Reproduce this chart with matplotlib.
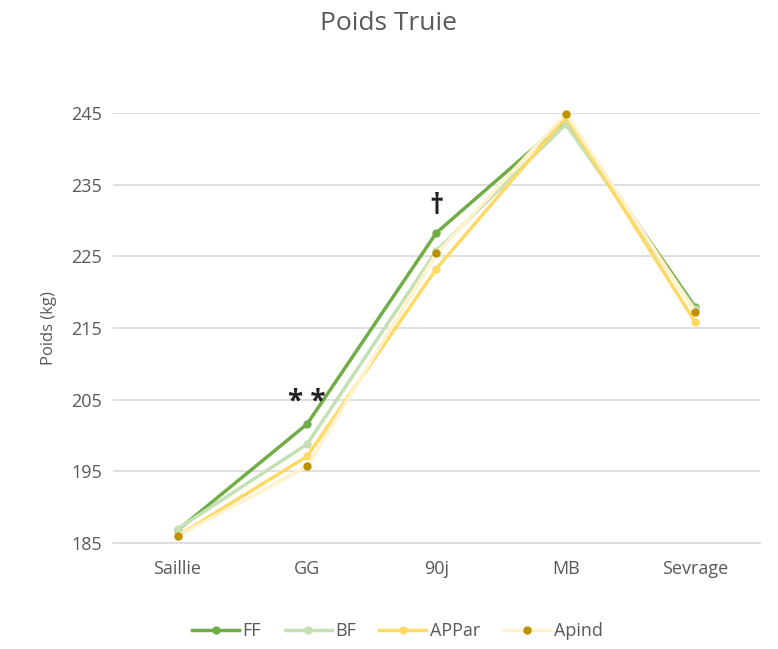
import matplotlib
matplotlib.use('Agg')
from matplotlib import pyplot as plt

categories = ['Saillie', 'GG', '90j', 'MB', 'Sevrage']
ff = [186.8, 201.6, 228.3, 244.0, 217.9]
bf = [187.0, 198.8, 225.8, 243.4, 217.6]
appar = [186.0, 197.1, 223.3, 244.4, 215.8]
apind = [186.0, 195.7, 225.4, 244.9, 217.2]

series = [
    ('FF', ff, '#70AD47', '#70AD47'),
    ('BF', bf, '#C5E0B4', '#C5E0B4'),
    ('APPar', appar, '#FFD966', '#FFD966'),
    ('Apind', apind, '#FFF2CC', '#BF9000'),
]

y_ticks = [185, 195, 205, 215, 225, 235, 245]


def main():
    plt.rcParams['font.family'] = ['Open Sans', 'DejaVu Sans']
    fig = plt.figure(figsize=(7.78, 6.49), dpi=100)
    ax = fig.add_axes((0.145, 0.163, 0.832, 0.663))

    x = list(range(len(categories)))
    for name, vals, line_col, mark_col in series:
        ax.plot(x, vals, color=line_col, lw=2.5, marker='o', ms=5,
                markerfacecolor=mark_col, markeredgecolor=mark_col,
                label=name, clip_on=False, zorder=3)

    ax.set_xlim(-0.5, 4.5)
    ax.set_ylim(185, 245)
    ax.set_yticks(y_ticks)
    ax.set_xticks(x)
    ax.set_xticklabels(categories)
    ax.grid(axis='y', color='#D9D9D9', lw=1.2)
    ax.set_axisbelow(True)
    for side in ['top', 'right', 'left']:
        ax.spines[side].set_visible(False)
    ax.spines['bottom'].set_color('#D9D9D9')
    ax.spines['bottom'].set_linewidth(1.2)
    ax.tick_params(length=0, labelsize=13, colors='#595959', pad=12)
    ax.tick_params(axis='y', pad=8)

    ax.set_ylabel('Poids (kg)', fontsize=12, color='#595959', labelpad=10)
    fig.suptitle('Poids Truie', fontsize=19, color='#595959', y=0.983)

    ax.text(1, 204.6, '* *', fontsize=20, fontweight='bold', ha='center', va='center',
            color='#222222')
    ax.text(2, 232, '†', fontsize=20, fontweight='bold', ha='center', va='center',
            color='#222222')

    ax.legend(loc='upper center', bbox_to_anchor=(0.44, -0.145), ncol=4, frameon=False,
              fontsize=13, labelcolor='#595959', handlelength=2.6, columnspacing=1.3,
              handletextpad=0.2)

    fig.savefig('out.png', dpi=100)


if __name__ == '__main__':
    main()
